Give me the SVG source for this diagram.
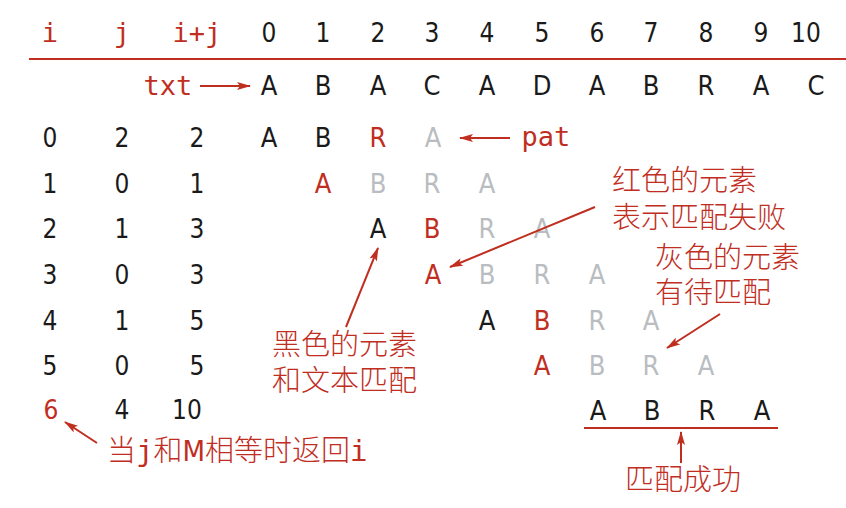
<svg xmlns="http://www.w3.org/2000/svg" width="846" height="508" viewBox="0 0 846 508">
<defs>
<style>
.t{font-family:"DejaVu Sans Condensed","DejaVu Sans","Liberation Sans",sans-serif;font-size:27px;text-anchor:middle;fill:#1a1a1a}
.d{font-size:26px}
.m{font-family:"DejaVu Sans Mono","Liberation Mono",monospace;font-size:27px;fill:#bf2e1f;text-anchor:middle}
.r{fill:#bf2e1f}
.g{fill:#b9bdc1}
.cn{font-family:"Noto Sans CJK SC","Noto Sans CJK JP",sans-serif;font-size:29px;font-weight:300;fill:#bf2e1f}
.ln{stroke:#bf2e1f;stroke-width:2;fill:none}
</style>
<marker id="ah" viewBox="0 0 14 8" refX="13" refY="4" markerWidth="14" markerHeight="8" markerUnits="userSpaceOnUse" orient="auto">
<path d="M0,0 L14,4 L0,8 L3,4 Z" fill="#bf2e1f"/>
</marker>
</defs>
<g id="header">
<text class="m" x="50" y="42">i</text>
<text class="m" x="122" y="42">j</text>
<text class="m" x="197" y="42">i+j</text>
<text class="t d" x="269" y="42">0</text><text class="t d" x="323" y="42">1</text><text class="t d" x="378" y="42">2</text><text class="t d" x="432" y="42">3</text><text class="t d" x="487" y="42">4</text><text class="t d" x="542" y="42">5</text><text class="t d" x="597" y="42">6</text><text class="t d" x="651" y="42">7</text><text class="t d" x="706" y="42">8</text><text class="t d" x="761" y="42">9</text><text class="t d" x="806" y="42">10</text>
</g>
<g id="txt">
<text class="m" x="168" y="95" font-size="28">txt</text>
<text class="t" x="269" y="95">A</text><text class="t" x="323" y="95">B</text><text class="t" x="378" y="95">A</text><text class="t" x="432" y="95">C</text><text class="t" x="487" y="95">A</text><text class="t" x="542" y="95">D</text><text class="t" x="597" y="95">A</text><text class="t" x="651" y="95">B</text><text class="t" x="706" y="95">R</text><text class="t" x="761" y="95">A</text><text class="t" x="816" y="95">C</text>
</g>
<g id="row0">
<text class="t d" x="50" y="147">0</text><text class="t d" x="122" y="147">2</text><text class="t d" x="197" y="147">2</text>
<text class="t" x="269" y="147">A</text><text class="t" x="323" y="147">B</text><text class="t r" x="378" y="147">R</text><text class="t g" x="433" y="147">A</text>
<text class="m" x="546" y="146" font-size="28">pat</text>
</g>
<g id="row1">
<text class="t d" x="50" y="193">1</text><text class="t d" x="122" y="193">0</text><text class="t d" x="197" y="193">1</text>
<text class="t r" x="323" y="193">A</text><text class="t g" x="378" y="193">B</text><text class="t g" x="432" y="193">R</text><text class="t g" x="487" y="193">A</text>
</g>
<g id="row2">
<text class="t d" x="50" y="238">2</text><text class="t d" x="122" y="238">1</text><text class="t d" x="197" y="238">3</text>
<text class="t" x="378" y="238">A</text><text class="t r" x="432" y="238">B</text><text class="t g" x="487" y="238">R</text><text class="t g" x="542" y="238">A</text>
</g>
<g id="row3">
<text class="t d" x="50" y="284">3</text><text class="t d" x="122" y="284">0</text><text class="t d" x="197" y="284">3</text>
<text class="t r" x="433" y="284">A</text><text class="t g" x="487" y="284">B</text><text class="t g" x="542" y="284">R</text><text class="t g" x="597" y="284">A</text>
</g>
<g id="row4">
<text class="t d" x="50" y="330">4</text><text class="t d" x="122" y="330">1</text><text class="t d" x="197" y="330">5</text>
<text class="t" x="487" y="330">A</text><text class="t r" x="542" y="330">B</text><text class="t g" x="597" y="330">R</text><text class="t g" x="651" y="330">A</text>
</g>
<g id="row5">
<text class="t d" x="50" y="375">5</text><text class="t d" x="122" y="375">0</text><text class="t d" x="197" y="375">5</text>
<text class="t r" x="542" y="375">A</text><text class="t g" x="597" y="375">B</text><text class="t g" x="651" y="375">R</text><text class="t g" x="706" y="375">A</text>
</g>
<g id="row6">
<text class="t d r" x="51" y="419">6</text><text class="t d" x="122" y="419">4</text><text class="t d" x="187" y="419">10</text>
<text class="t" x="598" y="420">A</text><text class="t" x="652" y="420">B</text><text class="t" x="707" y="420">R</text><text class="t" x="762" y="420">A</text>
</g>
<g id="notes">
<text class="cn" x="612" y="191">红色的元素</text>
<text class="cn" x="612" y="228">表示匹配失败</text>
<text class="cn" x="655" y="268">灰色的元素</text>
<text class="cn" x="655" y="303">有待匹配</text>
<text class="cn" x="272" y="355">黑色的元素</text>
<text class="cn" x="272" y="391">和文本匹配</text>
<text class="cn" x="107" y="461">当<tspan font-family="DejaVu Sans Mono" font-weight="400">j</tspan>和<tspan font-family="DejaVu Sans Condensed,DejaVu Sans" font-weight="400">M</tspan>相等时返回<tspan font-family="DejaVu Sans Mono" font-weight="400">i</tspan></text>
<text class="cn" x="625" y="490">匹配成功</text>
</g>
<g id="connectors">
<line class="ln" x1="29" y1="59" x2="846" y2="59"/>
<line class="ln" x1="584" y1="428" x2="778" y2="428"/>
<line class="ln" x1="200" y1="86" x2="250" y2="86" marker-end="url(#ah)"/>
<line class="ln" x1="510" y1="138" x2="460" y2="138" marker-end="url(#ah)"/>
<line class="ln" x1="595" y1="207" x2="450" y2="267" marker-end="url(#ah)"/>
<line class="ln" x1="346" y1="327" x2="378" y2="248" marker-end="url(#ah)"/>
<line class="ln" x1="720" y1="314" x2="667" y2="348" marker-end="url(#ah)"/>
<line class="ln" x1="681" y1="463" x2="681" y2="432" marker-end="url(#ah)"/>
<line class="ln" x1="97" y1="443" x2="65" y2="422" marker-end="url(#ah)"/>
</g>
</svg>
